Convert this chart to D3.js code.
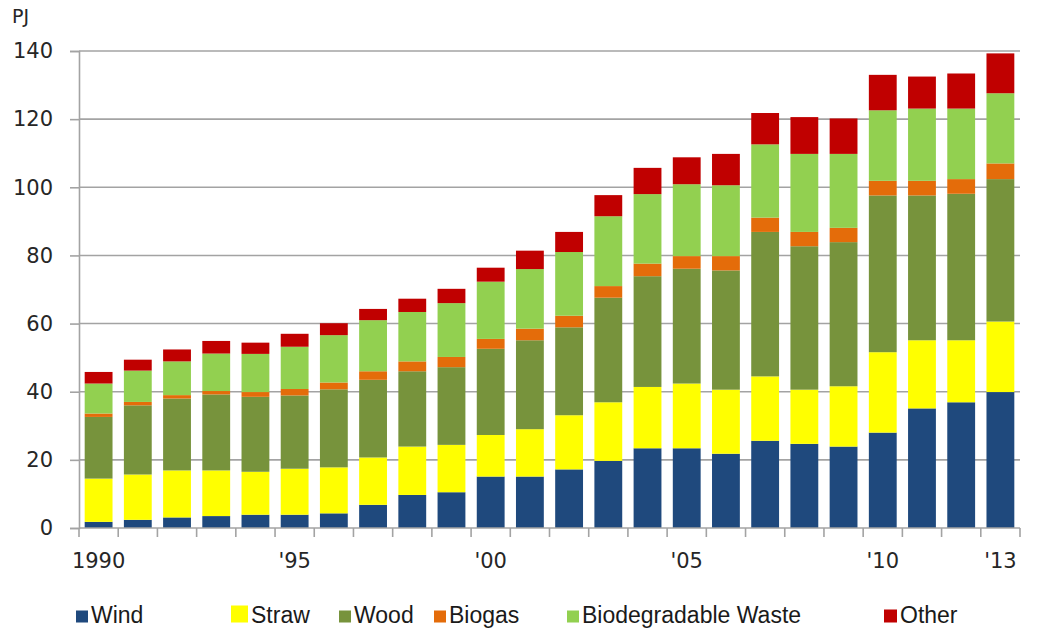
<!DOCTYPE html>
<html>
<head>
<meta charset="utf-8">
<script src="https://cdn.jsdelivr.net/npm/d3@7"></script>
<style>
  html, body { margin: 0; padding: 0; background: #fff; }
  svg { display: block; }
</style>
</head>
<body>
<svg id="chart" width="1041" height="631"></svg>
<script>
// Renewable energy production by source, PJ
const years = [1990,1991,1992,1993,1994,1995,1996,1997,1998,1999,2000,2001,
               2002,2003,2004,2005,2006,2007,2008,2009,2010,2011,2012,2013];
const wind    = [1.8,2.4,3.1,3.5,3.9,3.9,4.3,6.8,9.7,10.5,15.1,15.1,17.2,19.7,23.4,23.4,21.8,25.6,24.7,23.9,28.0,35.1,36.9,39.9];
const straw   = [12.7,13.3,13.8,13.4,12.6,13.5,13.5,13.9,14.2,13.9,12.2,13.9,15.9,17.2,18.0,19.0,18.8,18.9,15.9,17.7,23.6,20.0,18.2,20.7];
const wood    = [18.1,20.3,21.1,22.3,22.0,21.5,22.9,22.8,22.1,22.8,25.3,26.1,25.8,30.7,32.5,33.7,35.0,42.4,42.1,42.3,46.0,42.5,43.0,41.8];
const biogas  = [1.0,1.0,1.0,1.0,1.4,1.9,2.0,2.5,2.9,3.0,2.9,3.4,3.4,3.4,3.7,3.7,4.2,4.2,4.2,4.2,4.3,4.3,4.3,4.6];
const waste   = [8.8,9.2,9.9,11.0,11.2,12.4,13.9,15.0,14.5,15.8,16.8,17.5,18.7,20.5,20.4,21.1,20.8,21.5,22.9,21.7,20.7,21.2,20.7,20.6];
const other   = [3.4,3.2,3.5,3.7,3.3,3.8,3.5,3.3,3.9,4.2,4.1,5.4,5.9,6.2,7.7,7.9,9.2,9.2,10.8,10.4,10.4,9.4,10.3,11.7];

const seriesNames = ["Wind","Straw","Wood","Biogas","Biodegradable Waste","Other"];
const seriesValues = [wind, straw, wood, biogas, waste, other];
const yTicks = [0,20,40,60,80,100,120,140];
const labelYears = [1990,1995,2000,2005,2010,2013];
const labelTexts = ["1990","'95","'00","'05","'10","'13"];

const colors = ["#1f497d","#ffff00","#77933c","#e46c0a","#92d050","#c00000"];

// Stack table built from the series arrays
const table = years.map((yr, i) => {
  const row = { year: yr };
  seriesNames.forEach((n, k) => { row[n] = seriesValues[k][i]; });
  return row;
});

const svg = d3.select("#chart");
const plotLeft = 79, plotRight = 1020, plotTop = 51, plotBottom = 528;

const x = d3.scaleBand().domain(years).range([plotLeft, plotRight])
  .paddingInner(0.29).paddingOuter(0.145);
const y = d3.scaleLinear().domain([0, 140]).range([plotBottom, plotTop]);

const gridColor = "#a3a3a3";
const textColor = "#262626";

// Horizontal gridlines
svg.append("g").selectAll("line")
  .data(yTicks.filter(t => t > 0))
  .join("line")
  .attr("x1", plotLeft).attr("x2", plotRight)
  .attr("y1", d => y(d)).attr("y2", d => y(d))
  .attr("stroke", gridColor).attr("stroke-width", 1.6);

// Stacked bars
const stacked = d3.stack().keys(seriesNames)(table);
svg.append("g").selectAll("g")
  .data(stacked)
  .join("g")
  .attr("fill", (d, i) => colors[i])
  .selectAll("rect")
  .data(d => d)
  .join("rect")
  .attr("x", d => x(d.data.year))
  .attr("width", x.bandwidth())
  .attr("y", d => y(d[1]))
  .attr("height", d => y(d[0]) - y(d[1]));

// Y axis
const yAxis = svg.append("g")
  .attr("transform", `translate(${plotLeft},0)`)
  .call(d3.axisLeft(y).tickValues(yTicks).tickSize(9).tickPadding(17));
yAxis.select(".domain").attr("stroke", gridColor).attr("stroke-width", 1.6);
yAxis.selectAll(".tick line").attr("stroke", gridColor).attr("stroke-width", 1.6);
yAxis.selectAll(".tick text")
  .attr("fill", textColor)
  .style("font-family", "'DejaVu Sans', Verdana, sans-serif")
  .style("font-size", "21px");

// X axis line and category boundary ticks
const xg = svg.append("g");
xg.append("line")
  .attr("x1", plotLeft).attr("x2", plotRight)
  .attr("y1", plotBottom).attr("y2", plotBottom)
  .attr("stroke", gridColor).attr("stroke-width", 1.6);
const halfGap = x.step() * x.paddingInner() / 2;
const boundaries = years.map(yr => x(yr) - halfGap)
  .concat([x(years[years.length - 1]) + x.bandwidth() + halfGap]);
xg.selectAll("line.tk")
  .data(boundaries)
  .join("line")
  .attr("class", "tk")
  .attr("x1", d => d).attr("x2", d => d)
  .attr("y1", plotBottom).attr("y2", plotBottom + 9)
  .attr("stroke", gridColor).attr("stroke-width", 1.6);
xg.selectAll("text")
  .data(labelYears)
  .join("text")
  .attr("x", d => x(d) + x.bandwidth() / 2)
  .attr("y", 568)
  .attr("text-anchor", "middle")
  .attr("fill", textColor)
  .style("font-family", "'DejaVu Sans', Verdana, sans-serif")
  .style("font-size", "21px")
  .text((d, i) => labelTexts[i]);

// Unit label
svg.append("text")
  .attr("x", 12).attr("y", 22.5)
  .attr("fill", textColor)
  .style("font-family", "'DejaVu Sans', Verdana, sans-serif")
  .style("font-size", "19px")
  .text("PJ");

// Legend
const legendX = [76, 231, 339, 434, 567, 884];
const legendSize = [12, 17, 12, 12, 12, 13];
const legend = svg.append("g");
seriesNames.forEach((name, i) => {
  const s = legendSize[i];
  legend.append("rect")
    .attr("x", legendX[i]).attr("y", 622.5 - s)
    .attr("width", s).attr("height", s)
    .attr("fill", colors[i]);
  legend.append("text")
    .attr("x", legendX[i] + s + 3).attr("y", 622.5)
    .attr("fill", "#1a1a1a")
    .style("font-family", "'Liberation Sans', Arial, sans-serif")
    .style("font-size", "23px")
    .text(name);
});
</script>
</body>
</html>
